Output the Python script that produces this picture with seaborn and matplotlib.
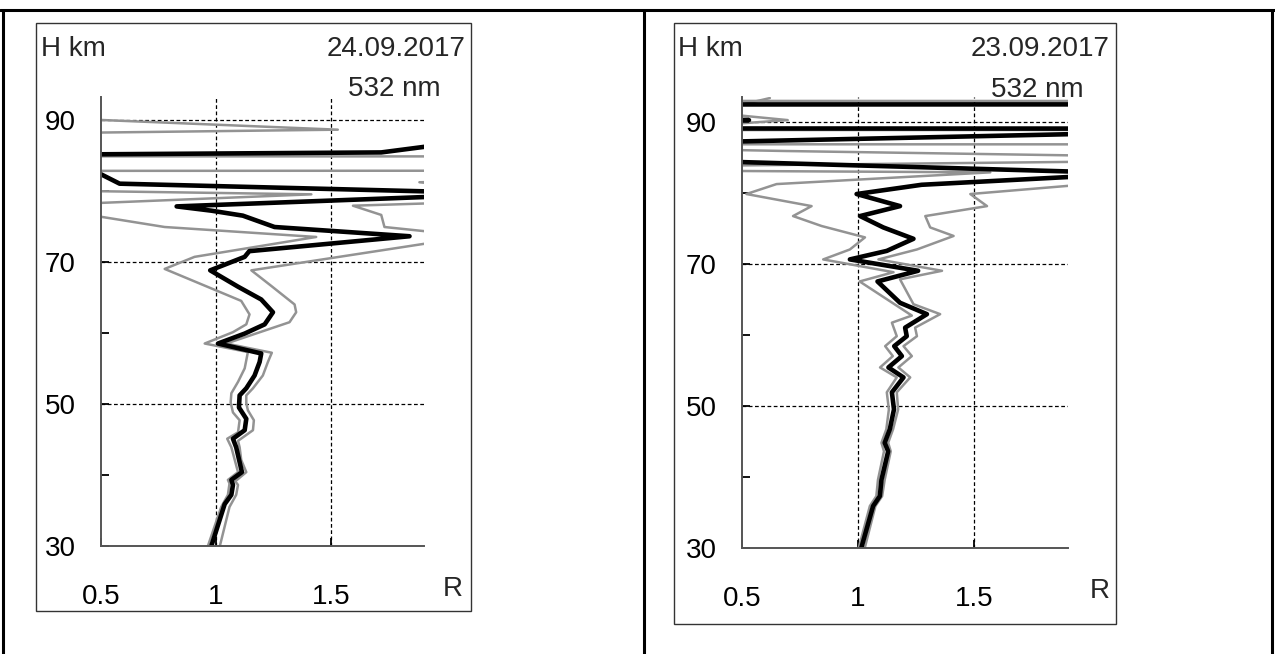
import matplotlib
matplotlib.use("Agg")
import matplotlib.pyplot as plt
import seaborn as sns
from matplotlib.patches import Rectangle
from matplotlib.lines import Line2D
from matplotlib.ticker import FixedLocator

sns.set_theme(style="white")
plt.rcParams['font.family'] = ['Liberation Sans', 'DejaVu Sans']

# ---------------- 24.09.2017 profiles (height km, scattering ratio R) ----------------
h_mean_24 = [30.0, 35.9, 37.2, 38.6, 39.3, 40.4, 43.9, 45.1, 46.3, 47.9, 49.5, 51.2, 52.2,
             54.0, 55.9, 57.1, 58.5, 59.9, 61.2, 62.9, 64.7, 66.5, 68.8, 70.7, 71.5, 73.6,
             74.9, 76.5, 77.2, 77.8, 79.6, 81.0, 85.1, 85.4, 87.0]
r_mean_24 = [0.980, 1.038, 1.067, 1.074, 1.067, 1.113, 1.088, 1.074, 1.125, 1.132, 1.100, 1.103, 1.132,
             1.168, 1.190, 1.197, 1.009, 1.125, 1.212, 1.248, 1.197, 1.096, 0.975, 1.125, 1.145, 1.842,
             1.255, 1.117, 0.980, 0.829, 2.30, 0.581, 0.33, 1.719, 2.10]

h_low_24 = [30.0, 35.5, 37.2, 38.8, 39.3, 40.4, 43.9, 45.1, 46.0, 47.7, 48.8, 50.2, 51.5, 53.1,
            55.0, 57.3, 58.5, 60.1, 61.2, 62.6, 64.5, 69.0, 70.7, 73.5, 74.9, 77.9, 79.5, 81.6,
            82.4, 82.7, 82.9, 84.8, 84.9, 87.1, 88.6, 90.1]
r_low_24 = [0.965, 1.023, 1.052, 1.059, 1.052, 1.096, 1.067, 1.049, 1.096, 1.103, 1.074, 1.064, 1.067, 1.096,
            1.125, 1.139, 0.951, 1.074, 1.132, 1.146, 1.110, 0.777, 0.907, 1.436, 0.777, 0.20, 1.415, -3.0,
            -9.0, -9.0, 9.0, 9.0, -9.0, -2.3, 1.53, 0.40]

h_high_24 = [30.0, 35.5, 37.2, 38.6, 39.1, 40.4, 42.1, 43.9, 44.8, 46.3, 47.7, 49.1, 50.1, 51.2,
             52.2, 54.0, 55.9, 57.2, 58.5, 61.5, 62.9, 64.0, 66.6, 68.8, 73.6, 74.9, 76.6, 77.9,
             78.9, 81.2, 81.9]
r_high_24 = [1.017, 1.059, 1.088, 1.096, 1.084, 1.132, 1.110, 1.103, 1.096, 1.161, 1.165, 1.139, 1.132, 1.132,
             1.161, 1.204, 1.226, 1.243, 1.045, 1.320, 1.349, 1.342, 1.241, 1.154, 2.12, 1.733, 1.719, 1.596,
             2.60, 1.885, 2.80]

# ---------------- 23.09.2017 profiles ----------------
h_mean_23 = [30.0, 35.9, 37.3, 39.6, 43.6, 44.8, 46.7, 49.5, 51.9, 54.0, 55.4, 57.0, 58.4, 59.8,
             61.0, 62.9, 64.5, 67.5, 69.0, 70.6, 71.8, 73.5, 75.1, 76.7, 78.1, 79.8, 81.1, 82.7,
             85.94, 89.0, 89.1, 90.2, 90.3, 92.35, 92.45]
r_mean_23 = [1.014, 1.065, 1.094, 1.101, 1.130, 1.115, 1.137, 1.155, 1.146, 1.196, 1.131, 1.189, 1.156, 1.210,
             1.203, 1.297, 1.181, 1.084, 1.259, 0.965, 1.124, 1.239, 1.109, 1.009, 1.181, 0.994, 1.274, 2.20,
             -1.26, 3.00, -9.0, 0.53, -9.0, -9.0, 9.0]

h_low_23 = [30.0, 35.9, 37.3, 39.6, 43.6, 44.8, 46.7, 49.5, 51.9, 54.0, 55.4, 57.0, 58.4, 59.8,
            61.7, 62.7, 67.5, 68.8, 70.6, 72.0, 73.7, 75.3, 76.7, 78.1, 79.8, 81.2, 82.85, 83.3,
            84.7, 85.85, 86.6, 89.3, 90.2, 91.3, 92.0, 93.3]
r_low_23 = [1.003, 1.051, 1.079, 1.086, 1.112, 1.101, 1.122, 1.133, 1.124, 1.167, 1.095, 1.150, 1.117, 1.167,
            1.146, 1.232, 1.007, 1.153, 0.850, 0.965, 1.030, 0.843, 0.720, 0.800, 0.519, 0.649, 1.570, -1.0,
            3.0, 0.69, -0.5, 0.30, 0.697, 0.35, 0.45, 0.62]

h_high_23 = [30.0, 35.9, 37.3, 39.6, 43.6, 44.8, 46.7, 49.5, 51.9, 54.0, 55.4, 57.0, 58.4, 59.8,
             61.0, 62.9, 64.3, 67.8, 69.0, 70.6, 72.0, 73.9, 75.1, 76.7, 78.1, 79.8, 82.3, 84.0,
             86.75, 86.85, 88.75, 88.85, 92.85, 92.95]
r_high_23 = [1.029, 1.075, 1.104, 1.115, 1.141, 1.130, 1.151, 1.173, 1.167, 1.225, 1.174, 1.232, 1.196, 1.254,
             1.246, 1.354, 1.239, 1.181, 1.362, 1.088, 1.254, 1.412, 1.311, 1.290, 1.556, 1.484, 2.40, 9.0,
             9.0, -9.0, -9.0, 9.0, 9.0, -9.0]

panels = [
    dict(date="24.09.2017", mean=(r_mean_24, h_mean_24), low=(r_low_24, h_low_24),
         high=(r_high_24, h_high_24), ylim=(30, 93.2),
         rect=(101, 97, 424, 546), box=(36, 23, 471, 611),
         hkm=(41, 49), date_xy=(465, 49), nm_xy=(441, 89), r_xy=(453, 589)),
    dict(date="23.09.2017", mean=(r_mean_23, h_mean_23), low=(r_low_23, h_low_23),
         high=(r_high_23, h_high_23), ylim=(30, 93.45),
         rect=(742, 97, 1068, 548), box=(674, 23, 1116, 624),
         hkm=(678, 49), date_xy=(1110, 49), nm_xy=(1084, 90), r_xy=(1100, 591)),
]

W, H = 1275, 654
fig = plt.figure(figsize=(W / 100, H / 100), dpi=100)
fig.patch.set_facecolor("white")


def fx(x):
    return x / W


def fy(y):
    return 1 - y / H


# table frame around the two panels
for (x0, y0, x1, y1) in [(0, 10, W, 10), (3, 10, 3, H), (644, 10, 644, H), (1272, 10, 1272, H)]:
    fig.add_artist(Line2D([fx(x0), fx(x1)], [fy(y0), fy(y1)], transform=fig.transFigure,
                          color="black", lw=2.2))

GRAY = "#939393"
FS = 20

for p in panels:
    bx0, by0, bx1, by1 = p["box"]
    fig.add_artist(Rectangle((fx(bx0), fy(by1)), fx(bx1) - fx(bx0), fy(by0) - fy(by1),
                             transform=fig.transFigure, fill=False, edgecolor="#333333", lw=1.0))

    x0, y0, x1, y1 = p["rect"]
    ax = fig.add_axes([fx(x0), fy(y1), fx(x1) - fx(x0), fy(y0) - fy(y1)])
    ax.set_facecolor("none")

    for key, col, lw in [("low", GRAY, 1.8), ("high", GRAY, 1.8), ("mean", "black", 3.3)]:
        r, h = p[key]
        sns.lineplot(x=r, y=h, sort=False, estimator=None, color=col, lw=lw, ax=ax,
                     legend=False)

    ax.set_xlim(0.5, 1.905)
    ax.set_ylim(*p["ylim"])
    ax.set_xlabel("")
    ax.set_ylabel("")

    # dotted reference grid
    for xv in (1.0, 1.5):
        ax.axvline(xv, color="black", lw=0.9, ls=(0, (3, 2)), zorder=0.5)
    for yv in (50, 70, 90):
        ax.axhline(yv, color="black", lw=0.9, ls=(0, (3, 2)), zorder=0.5)

    for side in ("top", "right"):
        ax.spines[side].set_visible(False)
    for side in ("left", "bottom"):
        ax.spines[side].set_color("#555555")
        ax.spines[side].set_linewidth(1.4)
        ax.spines[side].set_zorder(5)

    ax.xaxis.set_major_locator(FixedLocator([0.5, 1.0, 1.5]))
    ax.set_xticklabels(["0.5", "1", "1.5"])
    ax.yaxis.set_major_locator(FixedLocator([30, 50, 70, 90]))
    ax.yaxis.set_minor_locator(FixedLocator([40, 60, 80]))
    ax.tick_params(axis="both", which="both", direction="in", length=6, width=1.3,
                   color="black", labelsize=FS, labelcolor="black")
    ax.tick_params(axis="x", pad=27, bottom=True)
    ax.tick_params(axis="y", pad=18, left=True)
    ax.tick_params(axis="y", which="minor", left=True)

    fig.text(fx(p["hkm"][0]), fy(p["hkm"][1]), "H km", ha="left", va="center", fontsize=FS)
    fig.text(fx(p["date_xy"][0]), fy(p["date_xy"][1]), p["date"], ha="right", va="center",
             fontsize=FS)
    fig.text(fx(p["nm_xy"][0]), fy(p["nm_xy"][1]), "532 nm", ha="right", va="center",
             fontsize=FS)
    fig.text(fx(p["r_xy"][0]), fy(p["r_xy"][1]), "R", ha="center", va="center", fontsize=FS)

fig.savefig("out.png", dpi=100)
